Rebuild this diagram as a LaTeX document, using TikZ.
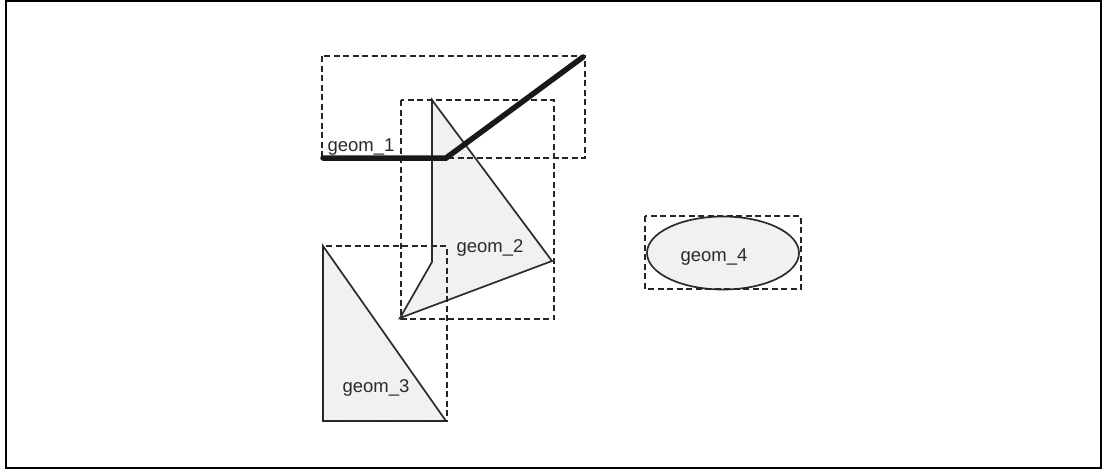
\documentclass[tikz,border=0pt]{standalone}
\usepackage{fontspec}
\setmainfont{Liberation Sans}
\definecolor{shapegray}{HTML}{F1F1F1}
\definecolor{edgegray}{HTML}{2B2B2B}
\begin{document}
\begin{tikzpicture}[
  x=1pt, y=-1pt,
  font=\fontsize{18.5}{20}\selectfont,
  every node/.style={text=edgegray,inner sep=0pt},
  frame/.style={draw=black,line width=2pt},
  geomshape/.style={draw=edgegray,fill=shapegray,line width=1.7pt,line join=miter},
  bbox/.style={draw=black!85,line width=1.4pt,dash pattern=on 6pt off 3.5pt},
  thickline/.style={draw=black!90,line width=5.5pt,line join=miter,line cap=round},
  glabel/.style={anchor=base},
]
\useasboundingbox (0,0) rectangle (1103,472);

% ---- Outer frame
\draw[frame] (6,1) rectangle (1101,468);

% ---- Vertices
\coordinate (A1) at (323,158);
\coordinate (A2) at (446,158);
\coordinate (A3) at (583,57);

\coordinate (B1) at (432,100);
\coordinate (B2) at (432,262);
\coordinate (B3) at (400,318);
\coordinate (B4) at (552,261);

\coordinate (C1) at (323,246);
\coordinate (C2) at (323,421);
\coordinate (C3) at (446,421);

\coordinate (D0) at (723,253);

% ---- Filled shapes
\draw[geomshape] (B1) -- (B2) -- (B3) -- (B4) -- cycle;
\draw[geomshape] (C1) -- (C2) -- (C3) -- cycle;
\draw[geomshape] (D0) ellipse [x radius=76, y radius=36.5];

% ---- Bounding boxes
\draw[bbox] (322,56) rectangle (585,158);
\draw[bbox] (401,100) rectangle (554,319);
\draw[bbox] (323,246) rectangle (447,421);
\draw[bbox] (645,216) rectangle (801,289);

% ---- Line geometry
\draw[thickline] (A1) -- (A2) -- (A3);

% ---- Labels
\node[glabel] (L1) at (361,151) {geom\_1};
\node[glabel] (L2) at (490,252) {geom\_2};
\node[glabel] (L3) at (376,392) {geom\_3};
\node[glabel] (L4) at (714,261) {geom\_4};

\end{tikzpicture}
\end{document}
